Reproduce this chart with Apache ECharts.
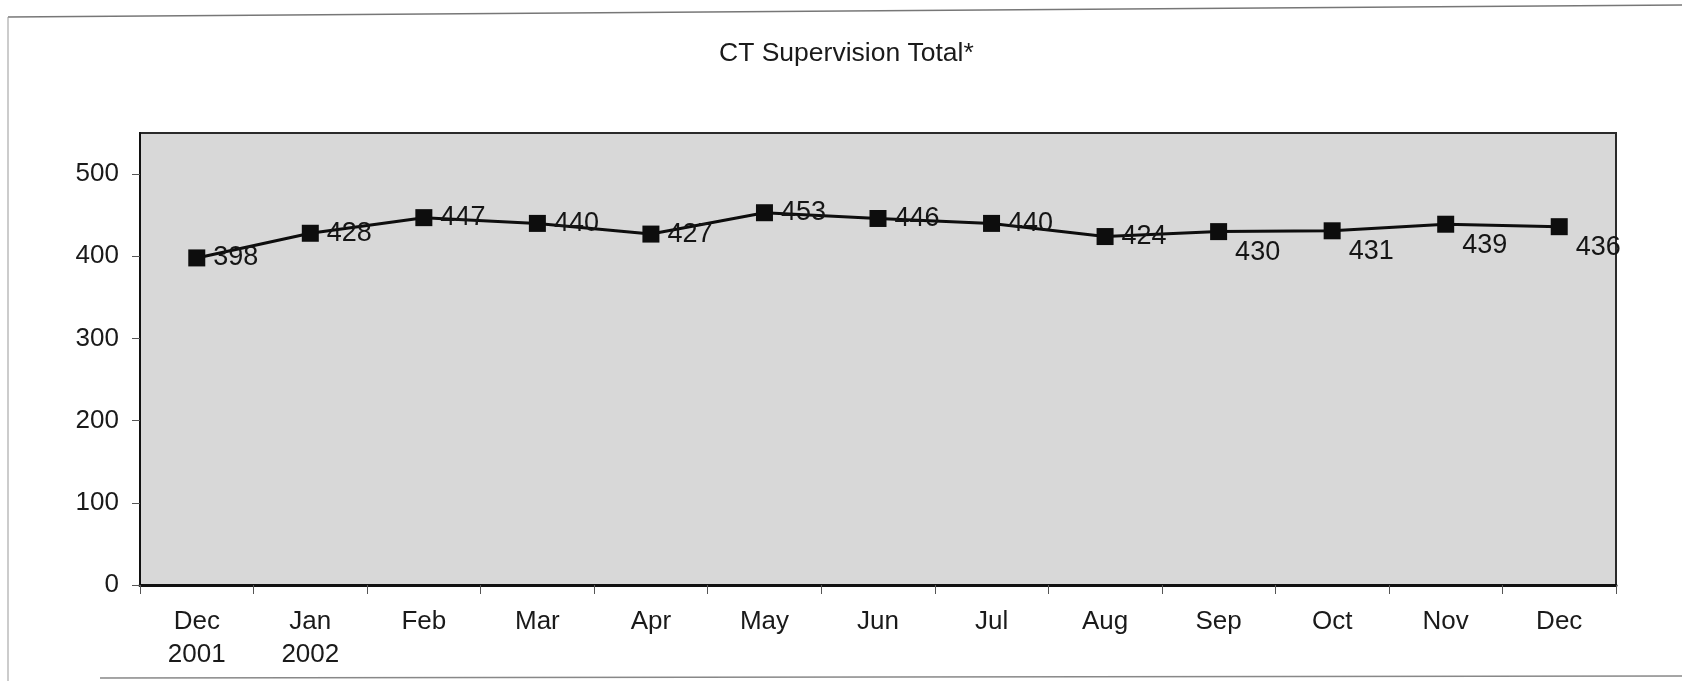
<!DOCTYPE html>
<html>
<head>
<meta charset="utf-8">
<title>CT Supervision Total</title>
<script src="https://cdn.jsdelivr.net/npm/echarts@6/dist/echarts.min.js"></script>
<style>
  html, body { margin: 0; padding: 0; background: #fff; }
  #chart { width: 1682px; height: 681px; }
</style>
</head>
<body>
<div id="chart"></div>
<script>
// monthly totals, Dec 2001 .. Dec 2002
const months = ['Dec\n2001', 'Jan\n2002', 'Feb', 'Mar', 'Apr', 'May', 'Jun', 'Jul', 'Aug', 'Sep', 'Oct', 'Nov', 'Dec'];
const totals = [398, 428, 447, 440, 427, 453, 446, 440, 424, 430, 431, 439, 436];
const yTicks = [0, 100, 200, 300, 400, 500];
// last four labels sit below-right of their markers in the scan
const lowLabels = ['Sep', 'Oct', 'Nov', 'Dec'];

const chart = echarts.init(document.getElementById('chart'));

const seriesData = totals.map((v, i) => {
  const low = i > 1 && lowLabels.indexOf(months[i]) !== -1;
  return low ? { value: v, label: { offset: [0, 21] } } : v;
});

chart.setOption({
  animation: false,
  textStyle: { fontFamily: '"Liberation Sans", Arial, sans-serif' },
  title: {
    text: 'CT Supervision Total*',
    left: 719,
    top: 40,
    padding: 0,
    textStyle: { fontSize: 26.5, fontWeight: 'normal', color: '#1a1a1a' }
  },
  grid: {
    left: 140,
    right: 66,
    top: 133,
    bottom: 96,
    show: true,
    backgroundColor: '#d8d8d8',
    borderColor: '#2a2a2a',
    borderWidth: 2
  },
  xAxis: {
    type: 'category',
    data: months,
    boundaryGap: true,
    axisLine: { lineStyle: { color: '#111', width: 3 } },
    axisTick: { show: true, length: 9, lineStyle: { color: '#555', width: 1 } },
    axisLabel: {
      interval: 0,
      fontSize: 26,
      lineHeight: 33,
      margin: 20,
      color: '#1a1a1a'
    },
    splitLine: { show: false }
  },
  yAxis: {
    type: 'value',
    min: 0,
    max: 550,
    interval: 100,
    axisLine: { show: true, lineStyle: { color: '#111', width: 2 } },
    axisTick: { show: true, length: 8, customValues: yTicks, lineStyle: { color: '#555', width: 1 } },
    axisLabel: {
      customValues: yTicks,
      fontSize: 26,
      margin: 21,
      color: '#1a1a1a'
    },
    splitLine: { show: false }
  },
  series: [
    {
      type: 'line',
      data: seriesData,
      symbol: 'rect',
      symbolSize: 17,
      itemStyle: { color: '#0d0d0d' },
      lineStyle: { color: '#0d0d0d', width: 3 },
      label: {
        show: true,
        position: 'right',
        distance: 8,
        fontSize: 27,
        color: '#151515'
      }
    }
  ],
  graphic: [
    // scanned page frame
    { type: 'line', shape: { x1: 8, y1: 17, x2: 1682, y2: 5 }, style: { stroke: '#777', lineWidth: 1.5 } },
    { type: 'line', shape: { x1: 8, y1: 17, x2: 8, y2: 681 }, style: { stroke: '#999', lineWidth: 1 } },
    { type: 'line', shape: { x1: 100, y1: 678, x2: 1682, y2: 676 }, style: { stroke: '#888', lineWidth: 1.5 } }
  ]
});
</script>
</body>
</html>
